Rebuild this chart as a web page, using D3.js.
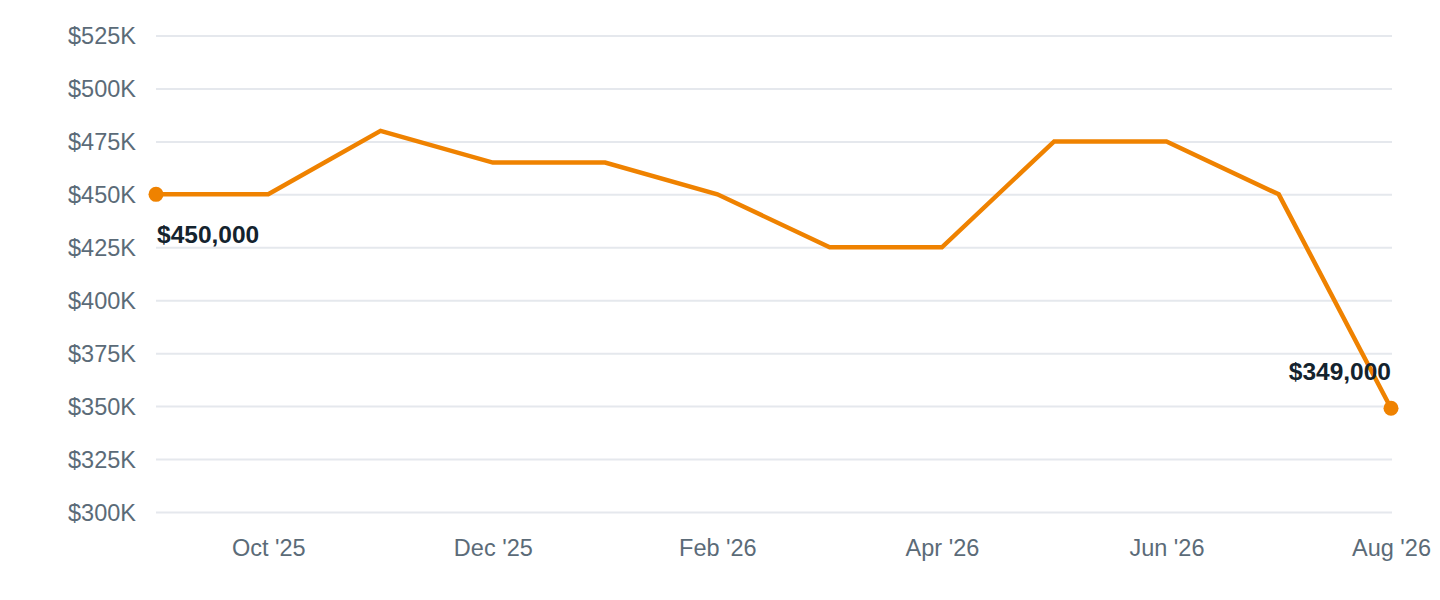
<!DOCTYPE html>
<html>
<head>
<meta charset="utf-8">
<script src="https://cdn.jsdelivr.net/npm/d3@7"></script>
<style>
  html, body { margin: 0; padding: 0; background: #ffffff; }
  svg { display: block; font-family: "Liberation Sans", Arial, Helvetica, sans-serif; }
</style>
</head>
<body>
<svg id="chart" width="1440" height="600"></svg>
<script>
const months = ["Sep '25", "Oct '25", "Nov '25", "Dec '25", "Jan '26", "Feb '26",
                "Mar '26", "Apr '26", "May '26", "Jun '26", "Jul '26", "Aug '26"];
const prices = [450000, 450000, 480000, 465000, 465000, 450000,
                425000, 425000, 475000, 475000, 450000, 349000];
const xTickLabels = ["Oct '25", "Dec '25", "Feb '26", "Apr '26", "Jun '26", "Aug '26"];
const yTickValues = [300000, 325000, 350000, 375000, 400000, 425000, 450000, 475000, 500000, 525000];

(function () {
const svg = d3.select("#chart");
const mLeft = 156, mRight = 1391, mTop = 35.5, mBottom = 512;

const x = d3.scalePoint().domain(months).range([mLeft, mRight]);
const y = d3.scaleLinear().domain([300000, 525000]).range([mBottom, mTop]);

const axisColor = "#5b6b78";
const orange = "#ef8200";

// gridlines + y labels
const yAxis = d3.axisLeft(y)
  .tickValues(yTickValues)
  .tickSize(-(mRight - mLeft + 1))
  .tickPadding(20)
  .tickFormat(d => "$" + d3.format("d")(d / 1000) + "K");

const gy = svg.append("g").attr("transform", `translate(${mLeft},0)`).call(yAxis);
gy.select(".domain").remove();
gy.selectAll(".tick line").attr("stroke", "#e5e8ed").attr("stroke-width", 2);
gy.selectAll(".tick text")
  .attr("fill", axisColor)
  .attr("font-size", 23.5)
  .attr("dy", "0.36em");

// x axis
const xAxis = d3.axisBottom(x).tickValues(xTickLabels).tickSize(0).tickPadding(0);
const gx = svg.append("g").attr("transform", `translate(0,${mBottom})`).call(xAxis);
gx.select(".domain").remove();
gx.selectAll(".tick text")
  .attr("fill", axisColor)
  .attr("font-size", 23.5)
  .attr("dy", null)
  .attr("y", 44);

// line
const data = months.map((m, i) => ({ m, v: prices[i] }));
const line = d3.line().x(d => x(d.m)).y(d => y(d.v));
svg.append("path")
  .datum(data)
  .attr("fill", "none")
  .attr("stroke", orange)
  .attr("stroke-width", 4.5)
  .attr("stroke-linejoin", "miter")
  .attr("d", line);

// end points
const ends = [data[0], data[data.length - 1]];
svg.selectAll("circle.end")
  .data(ends)
  .enter().append("circle")
  .attr("class", "end")
  .attr("cx", d => x(d.m))
  .attr("cy", d => y(d.v))
  .attr("r", 7.5)
  .attr("fill", orange);

// labels
const fmt = d => "$" + d3.format(",")(d);
svg.append("text")
  .attr("x", x(data[0].m) + 1)
  .attr("y", y(data[0].v) + 49)
  .attr("fill", "#14232e")
  .attr("font-size", 24.5)
  .attr("font-weight", "bold")
  .text(fmt(data[0].v));

svg.append("text")
  .attr("x", x(data[data.length - 1].m))
  .attr("y", y(data[data.length - 1].v) - 28)
  .attr("text-anchor", "end")
  .attr("fill", "#14232e")
  .attr("font-size", 24.5)
  .attr("font-weight", "bold")
  .text(fmt(data[data.length - 1].v));
})();
</script>
</body>
</html>
